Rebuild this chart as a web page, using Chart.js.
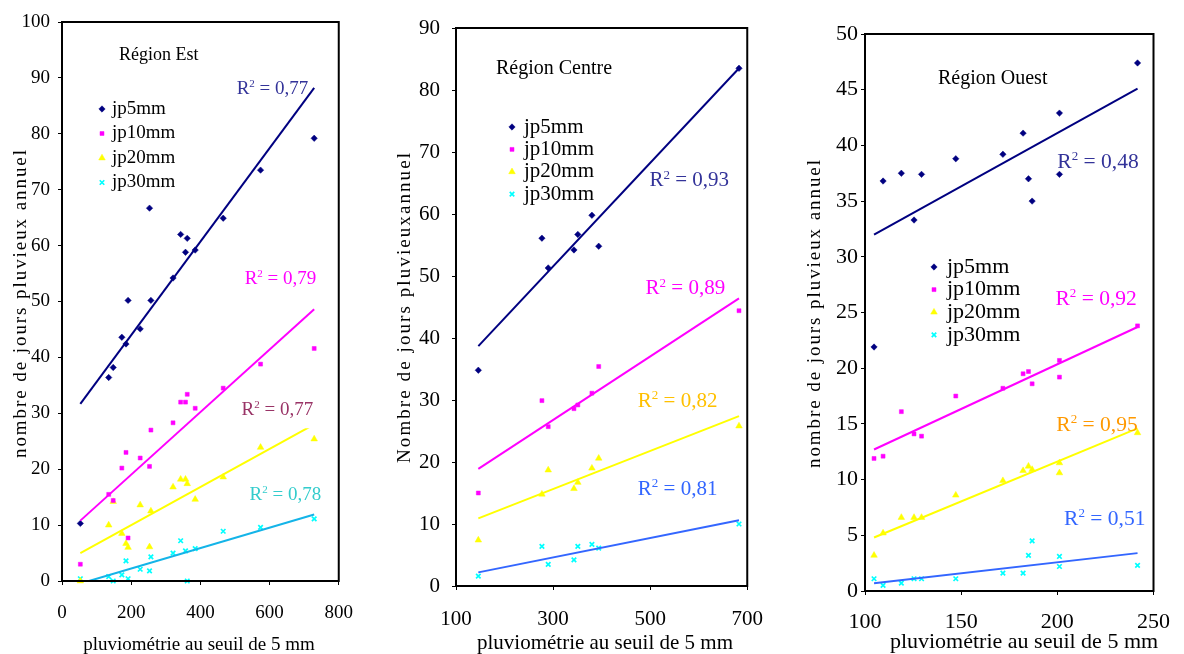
<!DOCTYPE html>
<html>
<head>
<meta charset="utf-8">
<script src="https://cdn.jsdelivr.net/npm/chart.js@4.4.1/dist/chart.umd.min.js"></script>
<style>
    body { margin: 0; background: #fff; width: 1184px; height: 654px; overflow: hidden; position: relative; }
    canvas { position: absolute; top: 0; }
</style>
</head>
<body>
<canvas id="est" width="370" height="654" style="left:0px"></canvas>
<canvas id="centre" width="410" height="654" style="left:370px"></canvas>
<canvas id="ouest" width="404" height="654" style="left:780px"></canvas>
<script>
// --- DONNÉES ---
const FONT = "'Liberation Serif', 'Times New Roman', serif";
const seriesNames = ['jp5mm', 'jp10mm', 'jp20mm', 'jp30mm'];

// Région Est : pluviométrie au seuil de 5 mm
const estX    = [53, 135, 148, 173, 185, 191, 226, 253, 257, 321, 343, 357, 362, 385, 466, 574, 729];
const estJp5  = [10.3, 36.4, 38.2, 43.6, 42.4, 50.2, 45.1, 66.7, 50.2, 54.2, 62.0, 58.8, 61.3, 59.2, 64.9, 73.5, 79.2];
const estJp10 = [3.0, 15.5, 14.4, 20.2, 23.0, 7.7, 22.0, 20.5, 27.0, 28.3, 32.0, 32.0, 33.4, 30.9, 34.5, 38.8, 41.6];
const estJp20 = [0, 10.0, 14.2, 8.5, 6.7, 6.0, 13.6, 6.1, 12.5, 16.8, 18.2, 18.2, 17.4, 14.6, 18.6, 23.9, 25.4];
const estJp30 = [0.4, 0.8, 0, 1.1, 3.6, 0.4, 2.1, 1.8, 4.3, 5.0, 7.2, 5.4, 0, 5.8, 8.9, 9.6, 11.1];
// droites de tendance (extrémités lues)
const estFitX   = [53, 729];
const estFit5   = [31.7, 88.2];
const estFit10  = [10.8, 48.6];
const estFit20  = [5.0, 28.0];
const estFit30X = [78, 729];
const estFit30  = [0, 11.9];
const estR2     = ['0,77', '0,79', '0,77', '0,78'];

// Région Centre
const centreX    = [146, 277, 290, 343, 351, 380, 394, 683];
const centreJp5  = [34.8, 56.1, 51.3, 54.2, 56.7, 59.8, 54.8, 83.5];
const centreJp10 = [15.0, 29.9, 25.7, 28.6, 29.2, 31.1, 35.4, 44.4];
const centreJp20 = [7.4, 14.8, 18.7, 15.7, 16.7, 19.0, 20.6, 25.8];
const centreJp30 = [1.6, 6.4, 3.5, 4.2, 6.4, 6.7, 6.1, 10.0];
const centreFitX  = [146, 683];
const centreFit5  = [38.7, 83.5];
const centreFit10 = [18.9, 46.4];
const centreFit20 = [10.9, 27.4];
const centreFit30 = [2.2, 10.6];
const centreR2    = ['0,93', '0,89', '0,82', '0,81'];

// Région Ouest
const ouestX    = [104.7, 109.4, 118.9, 125.5, 129.4, 147.2, 171.7, 182.2, 185.0, 186.9, 201.1, 201.1, 241.7];
const ouestJp5  = [21.9, 36.8, 37.5, 33.3, 37.4, 38.8, 39.2, 41.1, 37.0, 35.0, 42.9, 37.4, 47.4];
const ouestJp10 = [11.9, 12.1, 16.1, 14.1, 13.9, 17.5, 18.2, 19.5, 19.7, 18.6, 20.7, 19.2, 23.8];
const ouestJp20 = [3.2, 5.2, 6.6, 6.6, 6.6, 8.6, 9.9, 10.8, 11.2, 10.9, 11.5, 10.6, 14.2];
const ouestJp30 = [1.1, 0.5, 0.7, 1.1, 1.1, 1.1, 1.6, 1.6, 3.2, 4.5, 3.1, 2.2, 2.3];
const ouestFitX  = [104.7, 241.7];
const ouestFit5  = [32.0, 45.1];
const ouestFit10 = [12.7, 23.7];
const ouestFit20 = [4.8, 14.6];
const ouestFit30 = [0.7, 3.4];
const ouestR2    = ['0,48', '0,92', '0,95', '0,51'];

// --- STYLES ---
const markers = [
    { style: 'rectRot',  color: '#000080', r: 3.2, bw: 0.5 },
    { style: 'rect',     color: '#FF00FF', r: 2.8, bw: 0.5 },
    { style: 'triangle', color: '#FFFF00', r: 3.8, bw: 0.5 },
    { style: 'crossRot', color: '#00FFFF', r: 3.2, bw: 1.7 }
];

function pts(xs, ys) {
    return xs.map((x, i) => ({ x: x, y: ys[i] }));
}

// Cadre, titres, légende et étiquettes R²
const decor = {
    id: 'decor',
    afterDraw(chart, args, o) {
        const ctx = chart.ctx;
        const a = chart.chartArea;
        const sx = chart.scales.x, sy = chart.scales.y;
        ctx.save();

        // cadre
        ctx.strokeStyle = '#000';
        ctx.lineWidth = 2;
        ctx.strokeRect(a.left, a.top, a.right - a.left, a.bottom - a.top);

        // étiquettes R²
        o.r2.forEach(l => {
            const x = sx.getPixelForValue(l.x);
            const y = sy.getPixelForValue(l.y);
            const s = o.r2Size;
            ctx.textBaseline = 'alphabetic';
            ctx.textAlign = 'left';
            ctx.font = s + 'px ' + FONT;
            const wR = ctx.measureText('R').width;
            const wRest = ctx.measureText(' = ' + l.text).width;
            ctx.font = Math.round(s * 0.6) + 'px ' + FONT;
            const w2 = ctx.measureText('2').width;
            if (l.bg) {
                ctx.fillStyle = '#fff';
                ctx.fillRect(x - 6, y - 20, wR + w2 + wRest + 18, 40);
            }
            const base = y + s * 0.33;
            ctx.fillStyle = l.color;
            ctx.font = s + 'px ' + FONT;
            ctx.fillText('R', x, base);
            ctx.font = Math.round(s * 0.6) + 'px ' + FONT;
            ctx.fillText('2', x + wR, base - s * 0.36);
            ctx.font = s + 'px ' + FONT;
            ctx.fillText(' = ' + l.text, x + wR + w2, base);
        });

        // titre de région
        ctx.fillStyle = '#000';
        ctx.textAlign = 'left';
        ctx.textBaseline = 'middle';
        ctx.font = o.region.size + 'px ' + FONT;
        ctx.fillText(o.region.text, o.region.x, o.region.y);

        // légende
        const lg = o.legend;
        seriesNames.forEach((name, i) => {
            const m = markers[i];
            const y = lg.y + i * lg.dy;
            ctx.fillStyle = m.color;
            ctx.strokeStyle = m.color;
            ctx.lineWidth = m.bw;
            Chart.helpers.drawPoint(ctx, { pointStyle: m.style, radius: m.r, rotation: 0, borderWidth: m.bw }, lg.x, y);
            ctx.fillStyle = '#000';
            ctx.font = lg.size + 'px ' + FONT;
            ctx.textAlign = 'left';
            ctx.textBaseline = 'middle';
            ctx.fillText(name, lg.textX, y);
        });

        // titre de l'axe Y (texte étiré)
        const t = o.yTitle;
        ctx.save();
        ctx.translate(t.x, t.y);
        ctx.rotate(-Math.PI / 2);
        ctx.font = t.size + 'px ' + FONT;
        const nat = ctx.measureText(t.text).width;
        const ls = (t.length - nat) / (t.text.length - 1);
        if ('letterSpacing' in ctx) ctx.letterSpacing = ls + 'px';
        ctx.fillStyle = '#000';
        ctx.textAlign = 'center';
        ctx.textBaseline = 'middle';
        ctx.fillText(t.text, ls / 2, 0);
        ctx.restore();

        // titre de l'axe X
        const u = o.xTitle;
        ctx.fillStyle = '#000';
        ctx.textAlign = 'center';
        ctx.textBaseline = 'middle';
        ctx.font = u.size + 'px ' + FONT;
        ctx.fillText(u.text, u.x, u.y);

        ctx.restore();
    }
};

function buildPanel(p) {
    const datasets = [];
    // droites de tendance
    p.fits.forEach((f, i) => {
        datasets.push({
            label: 'tendance ' + seriesNames[i],
            data: pts(f[0], f[1]),
            showLine: true,
            borderColor: p.fitColors[i],
            borderWidth: 2,
            pointRadius: 0,
            fill: false
        });
    });
    // nuages de points
    p.series.forEach((ys, i) => {
        const m = markers[i];
        datasets.push({
            label: seriesNames[i],
            data: pts(p.x, ys),
            showLine: false,
            pointStyle: m.style,
            pointRadius: m.r,
            pointHoverRadius: m.r,
            backgroundColor: m.color,
            borderColor: m.color,
            borderWidth: m.bw,
            clip: false
        });
    });

    new Chart(document.getElementById(p.id), {
        type: 'scatter',
        data: { datasets: datasets },
        options: {
            responsive: false,
            animation: false,
            layout: { padding: { left: 0, right: p.padR, top: p.padT, bottom: 0 } },
            plugins: {
                legend: { display: false },
                tooltip: { enabled: false },
                decor: p.decor
            },
            scales: {
                x: {
                    type: 'linear', min: p.xMin, max: p.xMax,
                    ticks: { stepSize: p.xStep, color: '#000', font: { family: FONT, size: p.fs }, padding: p.xTickPad, maxRotation: 0, autoSkip: false },
                    grid: { drawOnChartArea: false, drawTicks: true, tickLength: 4, color: '#000' },
                    border: { color: '#000', width: 2 },
                    afterFit: s => { s.height = p.xAxisH; }
                },
                y: {
                    type: 'linear', min: 0, max: p.yMax,
                    ticks: { stepSize: p.yStep, color: '#000', font: { family: FONT, size: p.fs }, padding: p.yTickPad, autoSkip: false },
                    grid: { drawOnChartArea: false, drawTicks: true, tickLength: 4, color: '#000' },
                    border: { color: '#000', width: 2 },
                    afterFit: s => { s.width = p.yAxisW; }
                }
            }
        },
        plugins: [decor]
    });
}

// --- PANNEAUX ---
buildPanel({
    id: 'est',
    x: estX,
    series: [estJp5, estJp10, estJp20, estJp30],
    fits: [[estFitX, estFit5], [estFitX, estFit10], [estFitX, estFit20], [estFit30X, estFit30]],
    fitColors: ['#000080', '#FF00FF', '#FFFF00', '#14B4E8'],
    xMin: 0, xMax: 800, xStep: 200, yMax: 100, yStep: 10,
    fs: 19, yAxisW: 62, xAxisH: 73, padT: 22, padR: 22, yTickPad: 8, xTickPad: 17,
    decor: {
        r2Size: 19,
        r2: [
            { text: estR2[0], x: 505, y: 88.2, color: '#333399' },
            { text: estR2[1], x: 528, y: 54.2, color: '#FF00FF' },
            { text: estR2[2], x: 519, y: 30.9, color: '#993366', bg: true },
            { text: estR2[3], x: 542, y: 15.7, color: '#33CCCC' }
        ],
        region: { text: 'Région Est', x: 119, y: 55, size: 18 },
        legend: { x: 102, y: 109, dy: 24.5, textX: 112, size: 19 },
        yTitle: { text: 'nombre de jours pluvieux annuel', x: 21, y: 304, size: 19, length: 308 },
        xTitle: { text: 'pluviométrie au seuil de 5 mm', x: 199, y: 645, size: 19 }
    }
});

buildPanel({
    id: 'centre',
    x: centreX,
    series: [centreJp5, centreJp10, centreJp20, centreJp30],
    fits: [[centreFitX, centreFit5], [centreFitX, centreFit10], [centreFitX, centreFit20], [centreFitX, centreFit30]],
    fitColors: ['#000080', '#FF00FF', '#FFFF00', '#3366FF'],
    xMin: 100, xMax: 700, xStep: 200, yMax: 90, yStep: 10,
    fs: 21, yAxisW: 86, xAxisH: 68, padT: 28, padR: 26, yTickPad: 12, xTickPad: 17,
    decor: {
        r2Size: 21,
        r2: [
            { text: centreR2[0], x: 498.6, y: 65.6, color: '#333399' },
            { text: centreR2[1], x: 490.6, y: 48.2, color: '#FF00FF' },
            { text: centreR2[2], x: 474.5, y: 30.0, color: '#FFC000' },
            { text: centreR2[3], x: 474.5, y: 15.8, color: '#3366FF' }
        ],
        region: { text: 'Région Centre', x: 126, y: 69, size: 20 },
        legend: { x: 142, y: 127, dy: 22.4, textX: 154, size: 21 },
        yTitle: { text: 'Nombre de jours pluvieuxannuel', x: 35, y: 308, size: 19, length: 310 },
        xTitle: { text: 'pluviométrie au seuil de 5 mm', x: 235, y: 643, size: 21 }
    }
});

buildPanel({
    id: 'ouest',
    x: ouestX,
    series: [ouestJp5, ouestJp10, ouestJp20, ouestJp30],
    fits: [[ouestFitX, ouestFit5], [ouestFitX, ouestFit10], [ouestFitX, ouestFit20], [ouestFitX, ouestFit30]],
    fitColors: ['#000080', '#FF00FF', '#FFFF00', '#3366FF'],
    xMin: 100, xMax: 250, xStep: 50, yMax: 50, yStep: 5,
    fs: 22, yAxisW: 85, xAxisH: 63, padT: 34, padR: 22, yTickPad: 3, xTickPad: 14,
    decor: {
        r2Size: 21.5,
        r2: [
            { text: ouestR2[0], x: 200.0, y: 38.6, color: '#333399' },
            { text: ouestR2[1], x: 199.0, y: 26.3, color: '#FF00FF' },
            { text: ouestR2[2], x: 199.5, y: 15.0, color: '#FF9900' },
            { text: ouestR2[3], x: 203.5, y: 6.55, color: '#3366FF' }
        ],
        region: { text: 'Région Ouest', x: 158, y: 79, size: 20 },
        legend: { x: 154, y: 267, dy: 22.6, textX: 167, size: 22 },
        yTitle: { text: 'nombre de jours pluvieux annuel', x: 35, y: 314, size: 19, length: 308 },
        xTitle: { text: 'pluviométrie au seuil de 5 mm', x: 244, y: 642, size: 22 }
    }
});
</script>
</body>
</html>
